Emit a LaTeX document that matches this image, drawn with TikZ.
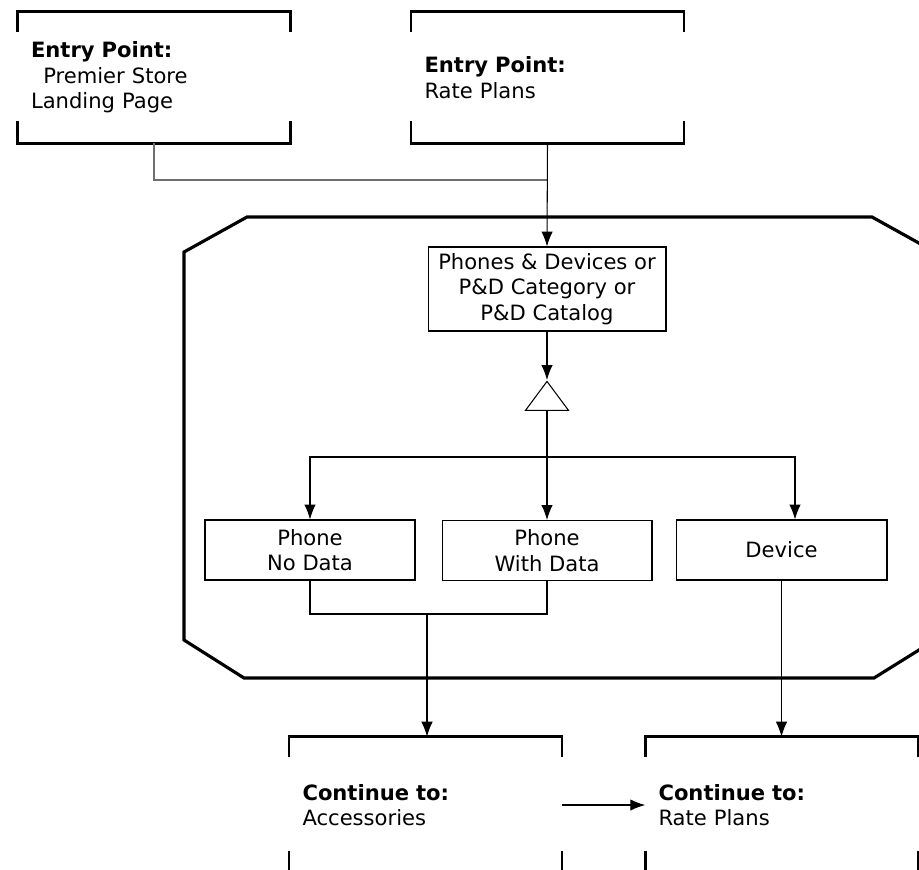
\documentclass[tikz,border=0pt]{standalone}
\usepackage{fontspec}
\setmainfont{DejaVu Sans}
\usepackage{tikz}
\usetikzlibrary{arrows,arrows.meta,shapes,positioning}
\usepackage{xcolor}
\definecolor{lngray}{RGB}{110,110,110}
\tikzstyle{arrow} = [line width=0.6pt,->,>={Latex[length=8.5pt,width=6.5pt]},color=black]
\tikzstyle{line} = [line width=0.6pt,color=lngray]
\tikzstyle{pagebox} = [draw, line width=0.6pt, rectangle, align=center, inner sep=2pt]
\tikzstyle{bracketbox} = [rectangle, minimum width=5.44cm, minimum height=2.62cm, text width=4.92cm, inner xsep=0.26cm, align=left]
\tikzstyle{bracket} = [line width=1.5pt]

\begin{document}
\begin{tikzpicture}[x=0.02cm, y=-0.02cm, font=\fontsize{12}{14.5}\selectfont]
\useasboundingbox (0,0) rectangle (919,869);
\clip (0,0) rectangle (919,869);

\node[bracketbox] (entryA) at (154,77.5) {\textbf{Entry Point:}\\\hspace*{7pt}Premier Store\\Landing Page};
\node[bracketbox] (entryB) at (547.5,77.5) {\textbf{Entry Point:}\\Rate Plans};
\node[bracketbox, minimum height=2.72cm] (contA) at (425.5,805) {\textbf{Continue to:}\\Accessories};
\node[bracketbox, minimum height=2.72cm] (contB) at (781.5,805) {\textbf{Continue to:}\\Rate Plans};

\foreach \n in {entryA,entryB,contA,contB} {
  \draw[bracket] ([yshift=-0.4cm]\n.north west) -- (\n.north west) -- (\n.north east) -- ++(0,20);
  \draw[bracket] ([yshift=0.45cm]\n.south west) -- (\n.south west) -- (\n.south east) -- ++(0,-22);
}

\draw[line width=1.8pt] (247,217) -- (872,217) -- (935,252) -- (935,640) -- (874,678)
  -- (244,678) -- (184,640) -- (184,252) -- cycle;

\node[pagebox, minimum width=4.76cm, minimum height=1.68cm] (cat) at (547,289)
  {Phones \& Devices or\\P\&D Category or\\P\&D Catalog};
\node[draw, line width=0.6pt, isosceles triangle, shape border rotate=90, isosceles triangle stretches,
  minimum width=0.86cm, minimum height=0.58cm, inner sep=0pt, anchor=apex] (tri) at (547,380) {};

\node[pagebox, minimum width=4.2cm, minimum height=1.2cm] (noData) at (310,550) {Phone\\No Data};
\node[pagebox, minimum width=4.2cm, minimum height=1.2cm] (withData) at (547,550.5) {Phone\\With Data};
\node[pagebox, minimum width=4.22cm, minimum height=1.2cm] (device) at (781.5,550) {Device};

\coordinate (join) at (547,180);
\coordinate (split) at (547,457);
\coordinate (merge) at (427,614);

\draw[line] (entryA.south) |- (join);
\draw[arrow] (entryB.south) -- (cat.north);
\draw[arrow] (cat.south) -- (tri.apex);
\draw[arrow] (tri.south) -- (withData.north);
\draw[arrow] (split) -| (noData.north);
\draw[arrow] (split) -| ([xshift=0.27cm]device.north);
\draw[line, black] (noData.south) |- (merge) -| (withData.south);
\draw[arrow] (merge) -- (merge |- contA.north);
\draw[arrow] (device.south) -- (device.south |- contB.north);
\draw[arrow] (contA.east) -- (contB.west);
\end{tikzpicture}
\end{document}
